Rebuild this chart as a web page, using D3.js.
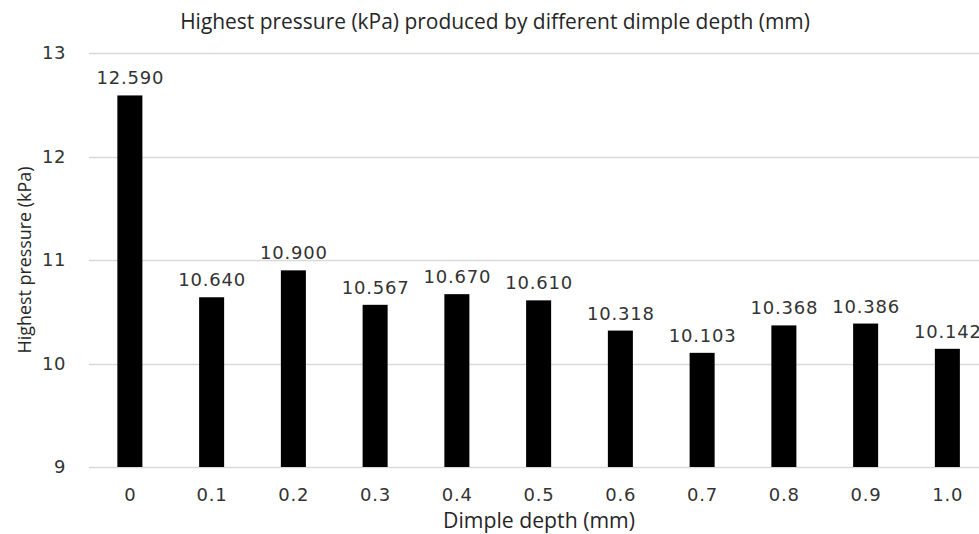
<!DOCTYPE html>
<html>
<head>
<meta charset="utf-8">
<script src="https://cdn.jsdelivr.net/npm/d3@7"></script>
<style>
  body { margin: 0; background: #fff; }
  svg { display: block; }
</style>
</head>
<body>
<svg width="979" height="534"></svg>
<script>
var depths = ['0', '0.1', '0.2', '0.3', '0.4', '0.5', '0.6', '0.7', '0.8', '0.9', '1.0']
var pressures = [12.590, 10.640, 10.900, 10.567, 10.670, 10.610, 10.318, 10.103, 10.368, 10.386, 10.142]
var yTicks = [9, 10, 11, 12, 13]

var chartTitle = 'Highest pressure (kPa) produced by different dimple depth (mm)'
var xTitle = 'Dimple depth (mm)'
var yTitle = 'Highest pressure (kPa)'

var svg = d3.select('svg')
var plotLeft = 89, plotTop = 53, plotBottom = 467
var step = 81.75

var x = d3.scaleBand()
    .domain(depths)
    .range([plotLeft, plotLeft + step * depths.length])
    .paddingInner(0.694)
    .paddingOuter(0.347)

var y = d3.scaleLinear()
    .domain([9, 13])
    .range([plotBottom, plotTop])

var numFont = '"DejaVu Sans", sans-serif'
var titleFont = '"Open Sans", sans-serif'

// gridlines
svg.append('g')
    .selectAll('line')
    .data(yTicks)
    .enter()
    .append('line')
    .attr('x1', plotLeft)
    .attr('x2', plotLeft + step * depths.length)
    .attr('y1', function (d) { return Math.round(y(d)) + 0.5 })
    .attr('y2', function (d) { return Math.round(y(d)) + 0.5 })
    .attr('stroke', '#d9d9d9')
    .attr('stroke-width', 1.3)

// y tick labels
svg.append('g')
    .selectAll('text')
    .data(yTicks)
    .enter()
    .append('text')
    .attr('x', 66)
    .attr('y', function (d) { return y(d) })
    .attr('dy', '0.36em')
    .attr('text-anchor', 'end')
    .style('font-family', numFont)
    .style('font-size', '18px')
    .style('letter-spacing', '0.6px')
    .style('fill', '#333')
    .text(function (d) { return d })

// bars
svg.append('g')
    .selectAll('rect')
    .data(pressures)
    .enter()
    .append('rect')
    .attr('x', function (d, i) { return x(depths[i]) })
    .attr('width', x.bandwidth())
    .attr('y', function (d) { return y(d) })
    .attr('height', function (d) { return y(9) - y(d) })
    .attr('fill', '#000')

// value labels
svg.append('g')
    .selectAll('text')
    .data(pressures)
    .enter()
    .append('text')
    .attr('x', function (d, i) { return x(depths[i]) + x.bandwidth() / 2 + 0.4 })
    .attr('y', function (d) { return y(d) - 11 })
    .attr('text-anchor', 'middle')
    .style('font-family', numFont)
    .style('font-size', '18px')
    .style('letter-spacing', '0.8px')
    .style('fill', '#333')
    .text(function (d) { return d.toFixed(3) })

// x tick labels
svg.append('g')
    .selectAll('text')
    .data(depths)
    .enter()
    .append('text')
    .attr('x', function (d) { return x(d) + x.bandwidth() / 2 + 0.4 })
    .attr('y', 501)
    .attr('text-anchor', 'middle')
    .style('font-family', numFont)
    .style('font-size', '18px')
    .style('letter-spacing', '0.8px')
    .style('fill', '#333')
    .text(function (d) { return d })

// fit a text to a target width by adjusting its font size
function fit (sel, width) {
  var w = sel.node().getComputedTextLength()
  var fs = parseFloat(sel.style('font-size'))
  sel.style('font-size', (fs * width / w) + 'px')
}

var t = svg.append('text')
    .attr('x', 495)
    .attr('y', 29)
    .attr('text-anchor', 'middle')
    .style('font-family', titleFont)
    .style('font-size', '17px')
    .style('fill', '#262626')
    .text(chartTitle)
fit(t, 630)

var xt = svg.append('text')
    .attr('x', 539)
    .attr('y', 528)
    .attr('text-anchor', 'middle')
    .style('font-family', titleFont)
    .style('font-size', '17px')
    .style('fill', '#262626')
    .text(xTitle)
fit(xt, 192)

var yt = svg.append('text')
    .attr('transform', 'translate(31,260) rotate(-90)')
    .attr('text-anchor', 'middle')
    .style('font-family', titleFont)
    .style('font-size', '16px')
    .style('fill', '#262626')
    .text(yTitle)
fit(yt, 187)
</script>
</body>
</html>
